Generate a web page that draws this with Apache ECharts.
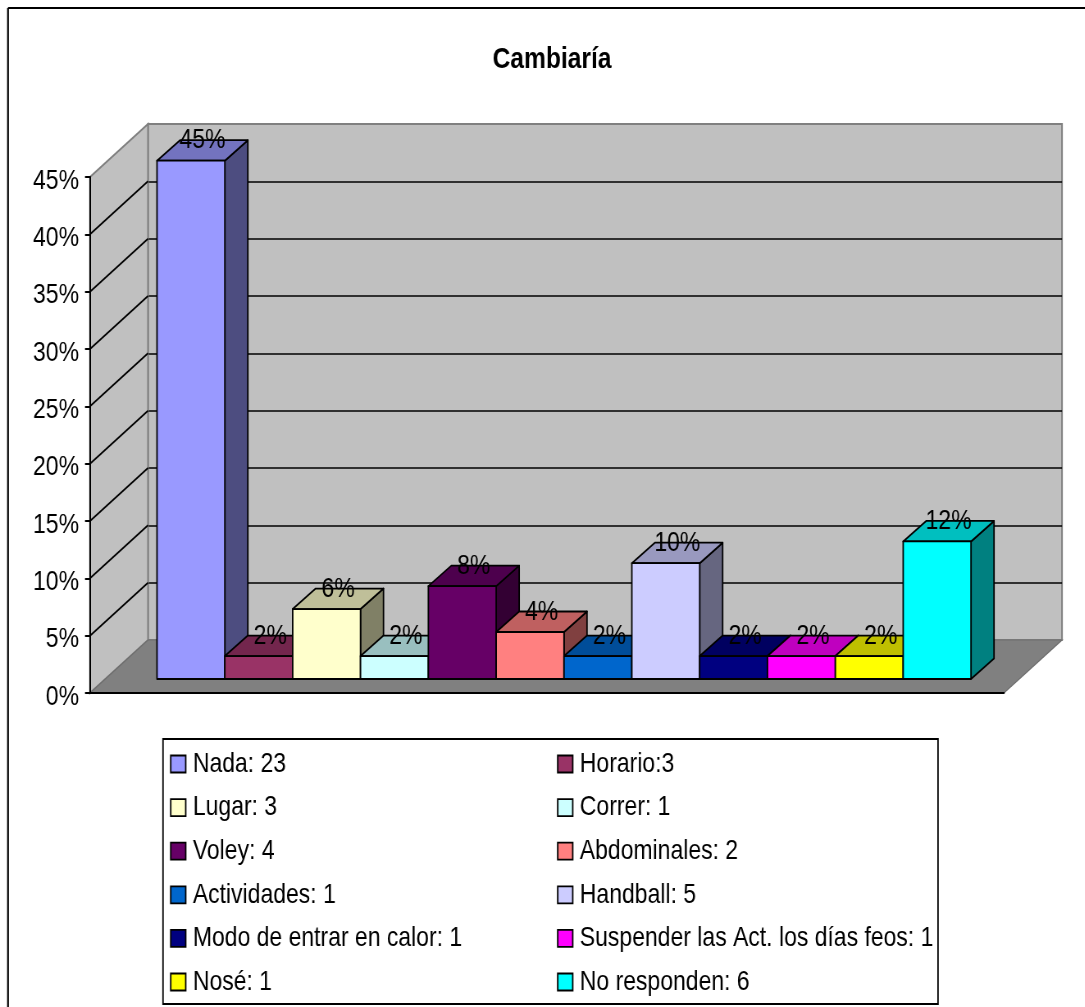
<!DOCTYPE html>
<html><head><meta charset="utf-8">
<style>html,body{margin:0;padding:0;background:#fff;overflow:hidden;width:1085px;height:1007px}
#c{width:1323px;height:1007px;transform:scaleX(.82);transform-origin:0 0}</style>
<script src="https://cdn.jsdelivr.net/npm/echarts@6/dist/echarts.min.js"></script>
</head><body><div id="c"></div>
<script>
const titleText = 'Cambiaría';
const categories = ['Nada: 23','Horario:3','Lugar: 3','Correr: 1','Voley: 4','Abdominales: 2','Actividades: 1','Handball: 5','Modo de entrar en calor: 1','Suspender las Act. los días feos: 1','Nosé: 1','No responden: 6'];
const percentValues = [45.2,2.0,6.1,2.0,8.1,4.1,2.0,10.1,2.0,2.0,2.0,12.0];
const percentLabels = ['45%','2%','6%','2%','8%','4%','2%','10%','2%','2%','2%','12%'];
const barColors = ['#9999FF','#993366','#FFFFCC','#CCFFFF','#660066','#FF8080','#0066CC','#CCCCFF','#000080','#FF00FF','#FFFF00','#00FFFF'];
const wallTicks = [5,10,15,20,25,30,35,40];

const FONT = '"Liberation Sans",Arial,sans-serif';
const SQ = 0.82;
const sx = x => x / SQ;
const WALL = [sx(58),-53];
const DEPTH = [sx(23),-20.5];
const BLACK = '#000';
function shade(hex,f){
  const n=parseInt(hex.slice(1),16);
  const p=[n>>16,(n>>8)&255,n&255].map(v=>Math.round(v*f));
  return 'rgb('+p.join(',')+')';
}
function renderBar(i){
  return function(params,api){
    const v=api.value(1);
    const top=api.coord([api.value(0),v]);
    const base=api.coord([api.value(0),0]);
    const w=api.size([1,0])[0];
    const l=top[0]-w/2, r=top[0]+w/2, t=top[1], b=base[1];
    const dx=DEPTH[0], dy=DEPTH[1];
    const st={stroke:BLACK,lineWidth:1.8,lineJoin:'round'};
    return {type:'group',children:[
      {type:'polygon',z2:10+i,shape:{points:[[r,t],[r+dx,t+dy],[r+dx,b+dy],[r,b]]},style:Object.assign({fill:shade(barColors[i],.5)},st)},
      {type:'polygon',z2:10+i,shape:{points:[[l,t],[l+dx,t+dy],[r+dx,t+dy],[r,t]]},style:Object.assign({fill:shade(barColors[i],.75)},st)},
      {type:'rect',z2:10+i,shape:{x:l,y:t,width:w,height:b-t},style:Object.assign({fill:barColors[i]},st)},
      {type:'text',z2:100,style:{text:percentLabels[i],x:top[0]+sx(11.5),y:t-20,align:'center',verticalAlign:'middle',font:'28px '+FONT,fill:BLACK}}
    ]};
  };
}
const barSeries = categories.map((name,i)=>({
  type:'custom',name:name,xAxisIndex:2,yAxisIndex:2,z:5,
  itemStyle:{color:barColors[i]},
  encode:{x:0,y:1},
  data:[[i,percentValues[i]]],
  renderItem:renderBar(i),silent:true
}));
const floorSeries = {
  type:'custom',xAxisIndex:0,yAxisIndex:0,z:3,silent:true,data:[[0,0]],encode:{x:0,y:1},
  renderItem:function(p,api){
    const a=api.coord([0,0]), b=api.coord([1,0]);
    return {type:'polygon',shape:{points:[a,b,[b[0]+WALL[0],b[1]+WALL[1]],[a[0]+WALL[0],a[1]+WALL[1]]]},
      style:{fill:'#808080',stroke:'#6e6e6e',lineWidth:1.2}};
  }
};
const sideWallSeries = {
  type:'custom',xAxisIndex:0,yAxisIndex:0,z:2,silent:true,data:[[0,0]],encode:{x:0,y:1},
  renderItem:function(p,api){
    const a=api.coord([0,0]), c=api.coord([0,45]);
    return {type:'polygon',shape:{points:[a,c,[c[0]+WALL[0],c[1]+WALL[1]],[a[0]+WALL[0],a[1]+WALL[1]]]},
      style:{fill:'#C0C0C0',stroke:'#808080',lineWidth:2}};
  }
};
const wallLineSeries = {
  type:'custom',xAxisIndex:0,yAxisIndex:0,z:3,silent:true,data:wallTicks.map(v=>[0,v]),encode:{x:0,y:1},
  renderItem:function(p,api){
    const a=api.coord([0,api.value(1)]);
    return {type:'line',shape:{x1:a[0],y1:a[1],x2:a[0]+WALL[0],y2:a[1]+WALL[1]},style:{stroke:BLACK,lineWidth:1.8}};
  }
};
const legendText={color:BLACK,fontFamily:FONT,fontSize:28,padding:[0,0,0,sx(3)]};
const legendBase={orient:'vertical',icon:'rect',itemWidth:sx(15),itemHeight:17,itemGap:15.6,selectedMode:false,
  padding:0,height:300,textStyle:legendText,itemStyle:{borderColor:BLACK,borderWidth:1.8}};
const chart=echarts.init(document.getElementById('c'),null,{renderer:'canvas',width:1323,height:1007});
chart.setOption({
  animation:false,
  backgroundColor:'#fff',
  title:{text:titleText,left:sx(552),top:45,textAlign:'center',padding:0,textStyle:{fontFamily:FONT,fontWeight:'bold',fontSize:30,color:BLACK}},
  legend:[
    Object.assign({},legendBase,{left:sx(170),top:750,data:categories.filter((_,i)=>i%2===0)}),
    Object.assign({},legendBase,{left:sx(557),top:750,data:categories.filter((_,i)=>i%2===1)})
  ],
  tooltip:{show:false},
  grid:[
    {left:sx(90),top:177,width:sx(914),height:516,show:false,z:4},
    {left:sx(148),top:124,width:sx(914),height:516,show:true,backgroundColor:'#C0C0C0',borderColor:'#808080',borderWidth:2,z:0},
    {left:sx(157),top:163,width:sx(814),height:516,show:false}
  ],
  xAxis:[
    {gridIndex:0,type:'value',min:0,max:1,axisLabel:{show:false},axisTick:{show:false},splitLine:{show:false},axisLine:{show:true,onZero:false,lineStyle:{color:BLACK,width:2}},z:6},
    {gridIndex:1,type:'value',min:0,max:1,show:false},
    {gridIndex:2,type:'category',data:categories,show:false}
  ],
  yAxis:[
    {gridIndex:0,type:'value',min:0,max:45,interval:5,
      axisLine:{show:true,lineStyle:{color:BLACK,width:2}},
      axisTick:{show:true,length:sx(5),lineStyle:{color:BLACK,width:2}},
      axisLabel:{formatter:'{value}%',margin:sx(11),verticalAlign:'top',lineHeight:8,color:BLACK,fontFamily:FONT,fontSize:28},
      splitLine:{show:false},z:6},
    {gridIndex:1,type:'value',min:0,max:45,interval:5,axisLine:{show:false},axisTick:{show:false},axisLabel:{show:false},
      splitLine:{show:true,showMinLine:false,showMaxLine:false,lineStyle:{color:BLACK,width:1.6}}},
    {gridIndex:2,type:'value',min:0,max:45,show:false}
  ],
  series:[sideWallSeries,floorSeries,wallLineSeries].concat(barSeries),
  graphic:[
    {type:'line',silent:true,z:-1,shape:{x1:sx(8),y1:8,x2:sx(1085),y2:8},style:{stroke:BLACK,lineWidth:2.2}},
    {type:'line',silent:true,z:-1,shape:{x1:sx(8),y1:8,x2:sx(8),y2:1007},style:{stroke:BLACK,lineWidth:2.2}},
    {type:'rect',silent:true,z:1,shape:{x:sx(163),y:739,width:sx(775),height:265},style:{fill:'#fff',stroke:BLACK,lineWidth:1.8}}
  ]
});
</script></body></html>
